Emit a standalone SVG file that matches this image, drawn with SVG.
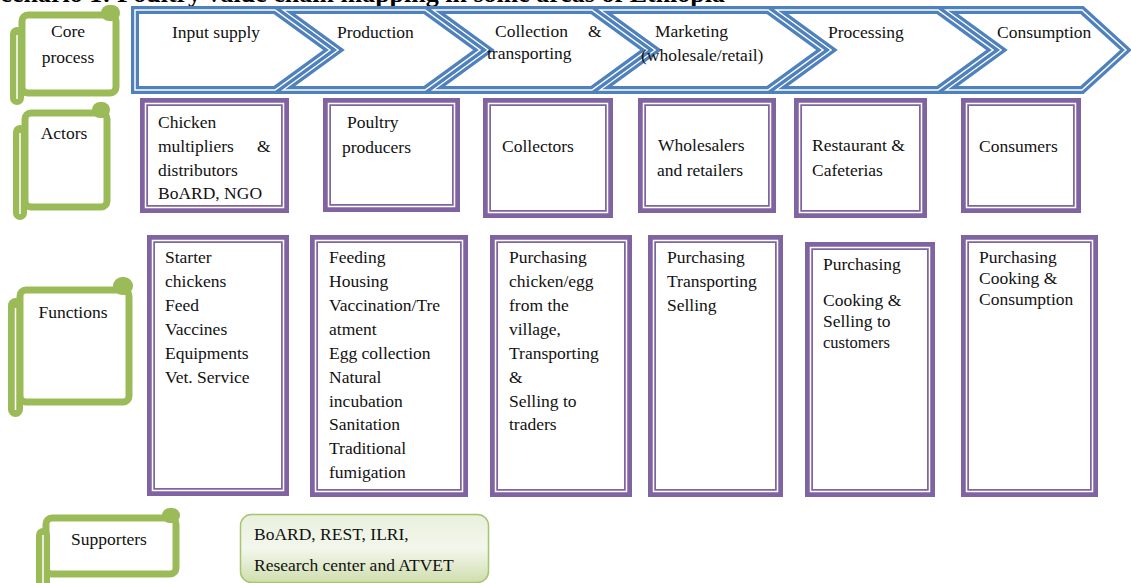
<svg xmlns="http://www.w3.org/2000/svg" width="1131" height="583" viewBox="0 0 1131 583">
<defs>
<style>
text{font-family:"Liberation Serif","Times New Roman",serif;font-size:17.5px;fill:#111}
.title{font-weight:bold;font-size:26px;fill:#000}
.chev{fill:#fff;stroke:#4f81bd;stroke-width:8;stroke-linejoin:miter}
.chevi{fill:none;stroke:#fff;stroke-width:1.5;stroke-linejoin:miter}
.pbox{fill:#fff;stroke:#8064a2;stroke-width:8}
.pin{fill:none;stroke:#fff;stroke-width:1.5}
.sbody{fill:#fff;stroke:#9bbb59;stroke-width:7}
.sfill{fill:#9bbb59}
.sline{stroke:#fff;stroke-width:1.5;fill:none}
</style>
<linearGradient id="gsup" x1="0" y1="0" x2="0" y2="1">
<stop offset="0" stop-color="#e9f0dc"/>
<stop offset="0.5" stop-color="#f3f7ec"/>
<stop offset="1" stop-color="#cfdeae"/>
</linearGradient>
</defs>
<rect width="1131" height="583" fill="#fff"/>
<text class="title" x="725" y="2" text-anchor="end">Scenario 1: Poultry value chain mapping in some areas of Ethiopia</text>

<g id="core-process-chain">
<path class="chev" d="M946,10 L1082,10 L1126,50 L1082,90 L946,90 L1001,50 Z"/>
<path class="chevi" d="M946,10 L1082,10 L1126,50 L1082,90 L946,90 L1001,50 Z"/>
<path class="chev" d="M776,10 L938,10 L993,50 L938,90 L776,90 L831,50 Z"/>
<path class="chevi" d="M776,10 L938,10 L993,50 L938,90 L776,90 L831,50 Z"/>
<path class="chev" d="M600,10 L768,10 L823,50 L768,90 L600,90 L655,50 Z"/>
<path class="chevi" d="M600,10 L768,10 L823,50 L768,90 L600,90 L655,50 Z"/>
<path class="chev" d="M433,10 L592,10 L647,50 L592,90 L433,90 L488,50 Z"/>
<path class="chevi" d="M433,10 L592,10 L647,50 L592,90 L433,90 L488,50 Z"/>
<path class="chev" d="M283,10 L425,10 L480,50 L425,90 L283,90 L338,50 Z"/>
<path class="chevi" d="M283,10 L425,10 L480,50 L425,90 L283,90 L338,50 Z"/>
<path class="chev" d="M135,10 L275,10 L330,50 L275,90 L135,90 Z"/>
<path class="chevi" d="M135,10 L275,10 L330,50 L275,90 L135,90 Z"/>
<text x="172" y="38">Input supply</text>
<text x="337" y="38">Production</text>
<text x="495" y="37">Collection</text>
<text x="588" y="37">&amp;</text>
<text x="487" y="59">transporting</text>
<text x="655" y="37">Marketing</text>
<text x="641" y="61">(wholesale/retail)</text>
<text x="828" y="38">Processing</text>
<text x="997" y="38">Consumption</text>
</g>

<g id="label-core">
<rect class="sbody" x="22" y="15" width="94" height="78" rx="6"/>
<rect class="sfill" x="101" y="5" width="19" height="16" rx="8"/>
<rect class="sfill" x="10" y="27" width="14" height="78" rx="7"/>
<line class="sline" x1="17" y1="35" x2="17" y2="99"/>
<text x="68" y="37" text-anchor="middle">Core</text>
<text x="68" y="63" text-anchor="middle">process</text>
</g>

<g id="label-actors">
<rect class="sbody" x="25" y="113" width="82" height="94" rx="6"/>
<rect class="sfill" x="92" y="102" width="18" height="16" rx="8"/>
<rect class="sfill" x="13" y="125" width="14" height="95" rx="7"/>
<line class="sline" x1="20" y1="133" x2="20" y2="214"/>
<text x="64" y="139" text-anchor="middle">Actors</text>
</g>

<g id="label-functions">
<rect class="sbody" x="20" y="290" width="109" height="112" rx="6"/>
<rect class="sfill" x="113" y="277" width="20" height="18" rx="9"/>
<rect class="sfill" x="8" y="298" width="15" height="119" rx="7.5"/>
<line class="sline" x1="15.5" y1="308" x2="15.5" y2="410"/>
<text x="73" y="318" text-anchor="middle">Functions</text>
</g>

<g id="label-supporters">
<rect class="sbody" x="46" y="518" width="130" height="56" rx="6"/>
<rect class="sfill" x="162" y="508" width="18" height="15" rx="7.5"/>
<rect class="sfill" x="36" y="528" width="14" height="62" rx="7"/>
<line class="sline" x1="43" y1="535" x2="43" y2="583"/>
<text x="109" y="545" text-anchor="middle">Supporters</text>
</g>

<g id="actor-1">
<rect class="pbox" x="144" y="102" width="141" height="107"/>
<rect class="pin" x="145.5" y="103.5" width="138" height="104"/>
<text x="158" y="128">Chicken</text>
<text x="158" y="152">multipliers</text>
<text x="257" y="152">&amp;</text>
<text x="158" y="176">distributors</text>
<text x="158" y="199">BoARD, NGO</text>
</g>
<g id="actor-2">
<rect class="pbox" x="327" y="102" width="129" height="106"/>
<rect class="pin" x="328.5" y="103.5" width="126" height="103"/>
<text x="347" y="128">Poultry</text>
<text x="342" y="153">producers</text>
</g>
<g id="actor-3">
<rect class="pbox" x="487" y="102" width="122" height="112"/>
<rect class="pin" x="488.5" y="103.5" width="119" height="109"/>
<text x="502" y="152">Collectors</text>
</g>
<g id="actor-4">
<rect class="pbox" x="642" y="102" width="130" height="107"/>
<rect class="pin" x="643.5" y="103.5" width="127" height="104"/>
<text x="658" y="151">Wholesalers</text>
<text x="657" y="176">and retailers</text>
</g>
<g id="actor-5">
<rect class="pbox" x="798" y="102" width="125" height="112"/>
<rect class="pin" x="799.5" y="103.5" width="122" height="109"/>
<text x="812" y="151">Restaurant &amp;</text>
<text x="812" y="176">Cafeterias</text>
</g>
<g id="actor-6">
<rect class="pbox" x="965" y="102" width="112" height="107"/>
<rect class="pin" x="966.5" y="103.5" width="109" height="104"/>
<text x="979" y="152">Consumers</text>
</g>

<g id="function-1">
<rect class="pbox" x="151" y="239" width="134" height="253"/>
<rect class="pin" x="152.5" y="240.5" width="131" height="250"/>
<text x="165" y="263">Starter</text>
<text x="165" y="287">chickens</text>
<text x="165" y="311">Feed</text>
<text x="165" y="335">Vaccines</text>
<text x="165" y="359">Equipments</text>
<text x="165" y="383">Vet. Service</text>
</g>
<g id="function-2">
<rect class="pbox" x="314" y="239" width="150" height="254"/>
<rect class="pin" x="315.5" y="240.5" width="147" height="251"/>
<text x="329" y="263">Feeding</text>
<text x="329" y="287">Housing</text>
<text x="329" y="311">Vaccination/Tre</text>
<text x="329" y="335">atment</text>
<text x="329" y="359">Egg collection</text>
<text x="329" y="383">Natural</text>
<text x="329" y="407">incubation</text>
<text x="329" y="430">Sanitation</text>
<text x="329" y="454">Traditional</text>
<text x="329" y="478">fumigation</text>
</g>
<g id="function-3">
<rect class="pbox" x="494" y="239" width="134" height="254"/>
<rect class="pin" x="495.5" y="240.5" width="131" height="251"/>
<text x="509" y="263">Purchasing</text>
<text x="509" y="287">chicken/egg</text>
<text x="509" y="311">from the</text>
<text x="509" y="335">village,</text>
<text x="509" y="359">Transporting</text>
<text x="509" y="383">&amp;</text>
<text x="509" y="407">Selling to</text>
<text x="509" y="430">traders</text>
</g>
<g id="function-4">
<rect class="pbox" x="652" y="239" width="127" height="254"/>
<rect class="pin" x="653.5" y="240.5" width="124" height="251"/>
<text x="667" y="263">Purchasing</text>
<text x="667" y="287">Transporting</text>
<text x="667" y="311">Selling</text>
</g>
<g id="function-5">
<rect class="pbox" x="809" y="246" width="122" height="247"/>
<rect class="pin" x="810.5" y="247.5" width="119" height="244"/>
<text x="823" y="270">Purchasing</text>
<text x="823" y="306">Cooking &amp;</text>
<text x="823" y="327">Selling to</text>
<text x="823" y="348" style="font-size:16.5px">customers</text>
</g>
<g id="function-6">
<rect class="pbox" x="965" y="239" width="129" height="254"/>
<rect class="pin" x="966.5" y="240.5" width="126" height="251"/>
<text x="979" y="263">Purchasing</text>
<text x="979" y="284">Cooking &amp;</text>
<text x="979" y="305">Consumption</text>
</g>

<g id="supporters">
<rect x="240.5" y="514.5" width="248" height="68" rx="11" fill="url(#gsup)" stroke="#a9c46e" stroke-width="1.5"/>
<text x="254" y="540">BoARD, REST, ILRI,</text>
<text x="254" y="571">Research center and ATVET</text>
</g>

<g id="connectors"></g>
</svg>
